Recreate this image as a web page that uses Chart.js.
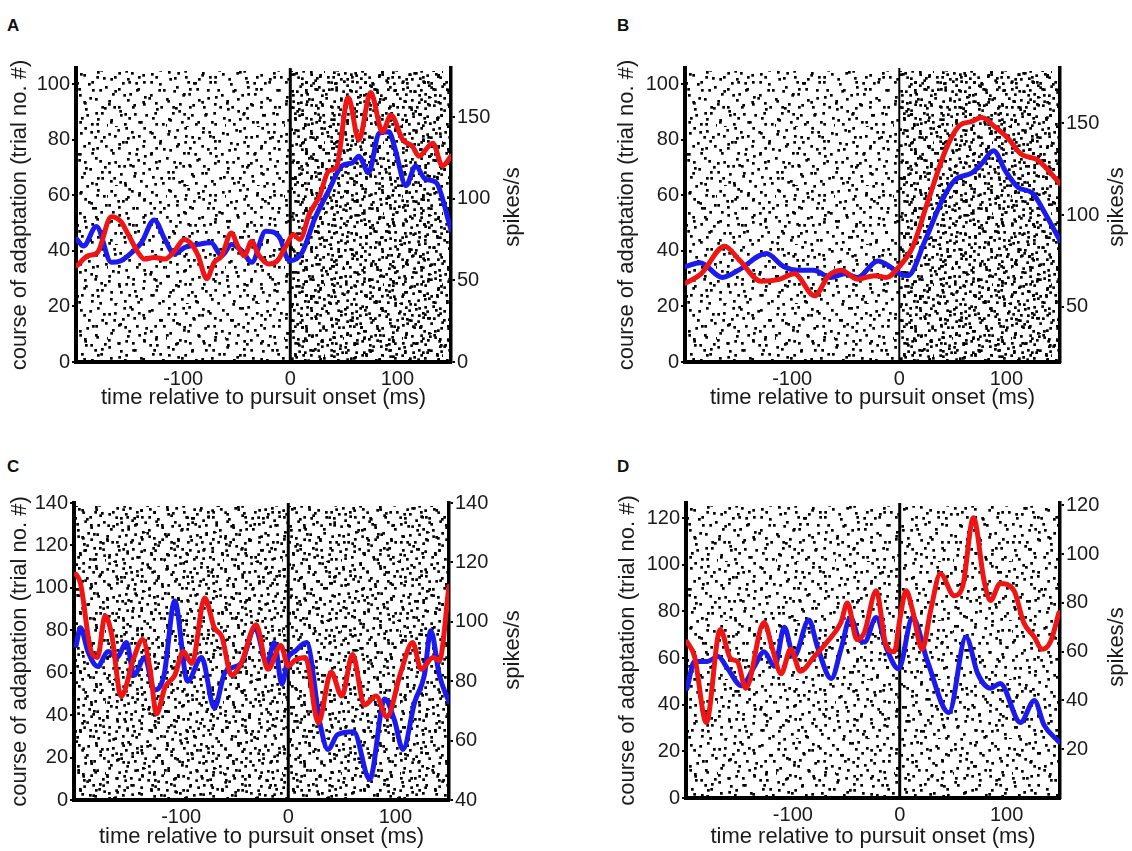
<!DOCTYPE html>
<html lang="en">
<head>
<meta charset="UTF-8">
<title>Spike rasters and firing rate during pursuit adaptation</title>
<script src="https://cdn.jsdelivr.net/npm/chart.js@4.4.2/dist/chart.umd.min.js"></script>
<style>
  body {
    margin: 0;
    background: #fff;
    width: 1132px;
    height: 851px;
    position: relative;
    overflow: hidden;
  }
  canvas { position: absolute; }
  .letter {
    position: absolute;
    font: bold 17px "Liberation Sans", Arial, sans-serif;
    line-height: 1;
    color: #111;
  }
</style>
</head>
<body>
<div class="letter" style="left:7px; top:17px">A</div>
<div class="letter" style="left:617px; top:17px">B</div>
<div class="letter" style="left:7px; top:458px">C</div>
<div class="letter" style="left:617px; top:458px">D</div>

<canvas id="chartA" width="560" height="425" style="left:0; top:0"></canvas>
<canvas id="chartB" width="572" height="425" style="left:560px; top:0"></canvas>
<canvas id="chartC" width="560" height="426" style="left:0; top:425px"></canvas>
<canvas id="chartD" width="572" height="426" style="left:560px; top:425px"></canvas>

<script>
// shared time axis (ms relative to pursuit onset)
const timeTicks = [-100, 0, 100];

// ---- A ----
const aTrialTicks = [0, 20, 40, 60, 80, 100];
const aRateTicks = [0, 50, 100, 150];
const aRedTime = [-199, -189, -180, -167, -158, -152, -142, -136, -127, -117, -108, -99, -92, -86, -78, -71, -64, -55, -49, -43, -36, -30, -20, -12, -4, 3, 9, 18, 27, 36, 43, 54, 64, 75, 86, 94, 105, 114, 120, 133, 142, 150];
const aRedRate = [59, 65, 67, 89, 86, 79, 67, 63, 64, 63, 68, 75, 72, 65, 51, 61, 65, 79, 71, 65, 74, 66, 60, 62, 71, 78, 75, 91, 101, 117, 119, 162, 136, 165, 141, 151, 136, 132, 126, 134, 120, 126];
const aBlueTime = [-199, -193, -181, -167, -158, -148, -139, -127, -117, -108, -99, -86, -74, -64, -55, -45, -36, -23, -14, -9, -4, 0, 11, 23, 36, 48, 58, 64, 73, 83, 92, 98, 108, 117, 126, 136, 150];
const aBlueRate = [75, 71, 83, 61, 62, 67, 73, 87, 75, 66, 70, 72, 73, 65, 72, 68, 61, 80, 79, 75, 65, 62, 67, 88, 105, 120, 122, 126, 116, 140, 141, 130, 108, 120, 112, 110, 81];

// ---- B ----
const bTrialTicks = [0, 20, 40, 60, 80, 100];
const bRateTicks = [50, 100, 150];
const bRedTime = [-199, -185, -163, -150, -129, -112, -98, -79, -66, -54, -39, -23, -12, 0, 12, 27, 43, 55, 68, 77, 89, 101, 114, 129, 150];
const bRedRate = [63, 68, 83, 76, 64, 65, 68, 56, 67, 70, 65, 67, 66, 72, 82, 108, 135, 148, 151, 153, 148, 142, 133, 130, 117];
const bBlueTime = [-199, -186, -165, -150, -124, -108, -95, -80, -64, -51, -39, -20, -9, 0, 8, 24, 40, 52, 68, 77, 88, 99, 111, 124, 136, 150];
const bBlueRate = [72, 74, 66, 70, 79, 72, 70, 70, 66, 68, 66, 75, 72, 68, 67, 86, 108, 119, 123, 128, 135, 124, 115, 112, 101, 86];

// ---- C ----
const cTrialTicks = [0, 20, 40, 60, 80, 100, 120, 140];
const cRateTicks = [40, 60, 80, 100, 120, 140];
const cRedTime = [-198, -194, -184, -178, -171, -165, -156, -144, -136, -129, -123, -115, -106, -98, -90, -78, -69, -62, -53, -44, -30, -19, -7, 0, 6, 16, 28, 40, 50, 60, 71, 82, 92, 105, 116, 124, 135, 141, 150];
const cRedRate = [116, 113, 90, 88, 102, 96, 75, 88, 94, 84, 69, 78, 82, 90, 86, 108, 98, 95, 82, 86, 99, 84, 92, 85, 87, 88, 66, 83, 75, 89, 72, 75, 68, 83, 93, 84, 88, 87, 112];
const cBlueTime = [-198, -194, -187, -178, -168, -160, -151, -144, -134, -125, -116, -106, -94, -81, -69, -59, -44, -31, -20, -13, -6, 0, 6, 17, 30, 37, 46, 61, 76, 90, 99, 107, 118, 127, 133, 141, 150];
const cBlueRate = [92, 98, 90, 85, 90, 88, 93, 82, 88, 77, 82, 107, 80, 88, 71, 83, 86, 98, 86, 93, 79, 88, 90, 93, 65, 57, 62, 63, 47, 74, 67, 57, 73, 82, 97, 82, 73];

// ---- D ----
const dTrialTicks = [0, 20, 40, 60, 80, 100, 120];
const dRateTicks = [20, 40, 60, 80, 100, 120];
const dRedTime = [-199, -192, -181, -168, -158, -152, -144, -127, -119, -111, -102, -93, -80, -68, -55, -49, -40, -33, -22, -13, -5, 0, 6, 12, 21, 29, 38, 51, 59, 69, 79, 85, 94, 107, 116, 126, 133, 141, 149];
const dRedRate = [64, 58, 31, 69, 57, 56, 45, 72, 61, 51, 61, 52, 58, 64, 72, 80, 65, 68, 85, 63, 60, 73, 85, 77, 61, 77, 92, 83, 87, 115, 89, 81, 88, 85, 72, 66, 61, 64, 76];
const dBlueTime = [-199, -192, -180, -170, -161, -148, -136, -127, -117, -108, -99, -85, -77, -64, -55, -46, -38, -33, -22, -12, -1, 12, 26, 46, 62, 73, 85, 94, 113, 126, 135, 149];
const dBlueRate = [45, 56, 56, 58, 53, 46, 54, 60, 54, 70, 58, 73, 62, 49, 61, 74, 65, 64, 74, 61, 53, 74, 56, 35, 66, 51, 45, 47, 31, 40, 30, 23];

const RED = '#f01515';
const BLUE = '#1b1bee';
const INK = '#1a1a1a';
const FONT = '"Liberation Sans", Arial, sans-serif';

// background texture for the spike rasters: one 71x59 tile of dot offsets,
// laid down several times with different orientations so no lattice shows
const rasterTile = [[4,5],[21,3],[38,8],[55,4],[67,13],[12,15],[29,18],[46,14],[60,21],[3,26],
  [19,30],[36,25],[51,31],[67,35],[9,40],[25,44],[42,38],[58,45],[34,53],[15,55],[48,55],
  [64,53],[5,49],[44,46],[27,9],[62,8],[16,21],[42,20],[8,34],[32,35],[56,38],[21,50],
  [39,58],[68,28],[51,10],[28,39]];
const rasterLayers = [
  [1, 0, 0, 1, 0, 0],
  [0, 1, -1, 0, 31, 17],
  [-1, 0, 0, -1, 40, 29],
  [0, -1, 1, 0, 13, 44]
];

function rasterPattern(ctx) {
  const tile = document.createElement('canvas');
  tile.width = 71;
  tile.height = 59;
  const t = tile.getContext('2d');
  t.fillStyle = '#000';
  rasterTile.forEach(([x, y]) => t.fillRect(x, y, 2.7, 2.7));
  return ctx.createPattern(tile, 'repeat');
}

const rasterPlugin = {
  id: 'raster',
  beforeDatasetsDraw(chart, args, opts) {
    const {ctx, chartArea: a, scales} = chart;
    const x0 = scales.x.getPixelForValue(0);
    const pat = rasterPattern(ctx);
    // number of layers sets the dot density
    const paint = (l, r, layers) => {
      for (let k = 0; k < layers; k++) {
        const m = rasterLayers[k];
        pat.setTransform(new DOMMatrix([m[0], m[1], m[2], m[3], a.left + m[4], a.top + m[5]]));
        ctx.fillStyle = pat;
        ctx.fillRect(l, a.top + 3, r - l, a.bottom - a.top - 3);
      }
    };
    ctx.save();
    ctx.beginPath();
    ctx.rect(a.left, a.top, a.right - a.left, a.bottom - a.top);
    ctx.clip();
    paint(a.left, x0, opts.pre);
    paint(x0, a.right, opts.post);
    ctx.restore();

    // onset marker
    ctx.save();
    ctx.strokeStyle = '#000';
    ctx.lineWidth = opts.zeroWidth;
    ctx.beginPath();
    ctx.moveTo(x0, a.top);
    ctx.lineTo(x0, a.bottom);
    ctx.stroke();
    ctx.restore();
  },
  afterDraw(chart, args, opts) {
    // right-hand axis title, reading bottom to top
    const {ctx} = chart;
    ctx.save();
    ctx.translate(opts.titleX, opts.titleY);
    ctx.rotate(-Math.PI / 2);
    ctx.font = '22px ' + FONT;
    ctx.fillStyle = INK;
    ctx.textAlign = 'center';
    ctx.textBaseline = 'middle';
    ctx.fillText('spikes/s', 0, 0);
    ctx.restore();
  }
};

function pts(times, rates) {
  return times.map((t, i) => ({x: t, y: rates[i]}));
}

function fixedTicks(list) {
  return s => { s.ticks = list.map(v => ({value: v})); };
}

function buildPanel(p) {
  const canvas = document.getElementById(p.id);
  const W = canvas.width, H = canvas.height;
  const line = (data, color) => ({
    data, borderColor: color, borderWidth: 5, pointRadius: 0,
    cubicInterpolationMode: 'monotone', yAxisID: 'yRate', borderJoinStyle: 'round', borderCapStyle: 'round'
  });
  const tickFont = {family: FONT, size: 20};
  const titleFont = {family: FONT, size: 22};
  new Chart(canvas, {
    type: 'line',
    data: {
      datasets: [
        line(pts(p.red[0], p.red[1]), RED),
        line(pts(p.blue[0], p.blue[1]), BLUE)
      ]
    },
    options: {
      responsive: false,
      animation: false,
      events: [],
      layout: {padding: {top: p.area.top, left: 0, right: 0, bottom: 0}},
      plugins: {
        legend: {display: false},
        tooltip: {enabled: false},
        raster: {pre: p.raster[0], post: p.raster[1], zeroWidth: p.zeroWidth,
                 titleX: p.rateTitle[0], titleY: p.rateTitle[1]}
      },
      scales: {
        x: {
          type: 'linear', min: -200, max: 150,
          afterBuildTicks: fixedTicks(timeTicks),
          afterFit: s => { s.height = H - p.area.bottom; },
          grid: {display: false, drawTicks: false},
          border: {display: true, color: '#000', width: 4},
          ticks: {color: INK, font: tickFont, padding: 5, maxRotation: 0},
          title: {display: true, text: 'time relative to pursuit onset (ms)', color: INK,
                  font: titleFont, padding: {top: 0, bottom: p.pad.bottom}}
        },
        yTrial: {
          position: 'left', min: 0, max: p.trialMax,
          afterBuildTicks: fixedTicks(p.trialTicks),
          afterFit: s => { s.width = p.area.left; },
          grid: {display: true, drawOnChartArea: false, drawTicks: true, tickLength: 4, color: '#000', lineWidth: 2},
          border: {display: true, color: '#000', width: 4},
          ticks: {color: INK, font: tickFont, padding: 2},
          title: {display: true, text: 'course of adaptation (trial no. #)', color: INK,
                  font: titleFont, padding: {top: p.pad.left, bottom: 0}}
        },
        yRate: {
          position: 'right', min: p.rateMin, max: p.rateMax,
          afterBuildTicks: fixedTicks(p.rateTicks),
          afterFit: s => { s.width = W - p.area.right; },
          grid: {display: true, drawOnChartArea: false, drawTicks: true, tickLength: 4, color: '#000', lineWidth: 2},
          border: {display: true, color: '#000', width: 3.5},
          ticks: {color: INK, font: tickFont, padding: 2}
        }
      }
    },
    plugins: [rasterPlugin]
  });
}

[
  {id: 'chartA', trialMax: 105.8, rateMin: 0, rateMax: 180, trialTicks: aTrialTicks, rateTicks: aRateTicks,
   red: [aRedTime, aRedRate], blue: [aBlueTime, aBlueRate],
   area: {left: 76, right: 451, top: 68, bottom: 362}, raster: [2, 4], zeroWidth: 3,
   pad: {left: 6.8, bottom: 13.8}, rateTitle: [513, 207]},
  {id: 'chartB', trialMax: 105.8, rateMin: 20, rateMax: 180, trialTicks: bTrialTicks, rateTicks: bRateTicks,
   red: [bRedTime, bRedRate], blue: [bBlueTime, bBlueRate],
   area: {left: 125, right: 500, top: 68, bottom: 362}, raster: [2, 4], zeroWidth: 2,
   pad: {left: 53.8, bottom: 13.8}, rateTitle: [557, 207]},
  {id: 'chartC', trialMax: 140, rateMin: 40, rateMax: 140, trialTicks: cTrialTicks, rateTicks: cRateTicks,
   red: [cRedTime, cRedRate], blue: [cBlueTime, cBlueRate],
   area: {left: 74, right: 449, top: 78, bottom: 375}, raster: [3, 3], zeroWidth: 3,
   pad: {left: 6.8, bottom: 0.8}, rateTitle: [513, 225]},
  {id: 'chartD', trialMax: 126.5, rateMin: 0, rateMax: 121, trialTicks: dTrialTicks, rateTicks: dRateTicks,
   red: [dRedTime, dRedRate], blue: [dBlueTime, dBlueRate],
   area: {left: 126, right: 500, top: 78, bottom: 373}, raster: [2, 2], zeroWidth: 3,
   pad: {left: 54.8, bottom: 0.8}, rateTitle: [557, 222]}
].forEach(buildPanel);
</script>
</body>
</html>
